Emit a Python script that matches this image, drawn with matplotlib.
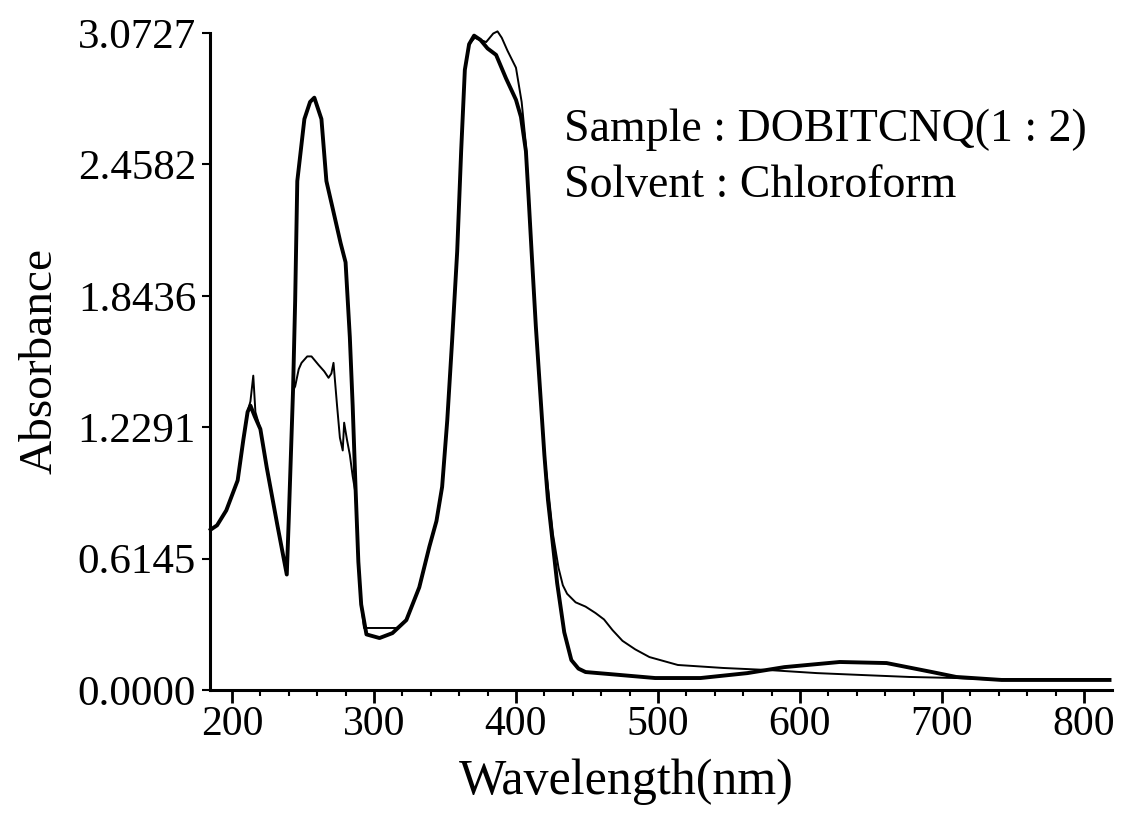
import numpy as np
import matplotlib
matplotlib.use('Agg')
import matplotlib.pyplot as plt
from matplotlib.ticker import FixedLocator, MultipleLocator

wl_thick = [185, 189.5, 196, 204, 208, 211, 213, 216, 220, 224.5, 232, 238.6,
            240, 243, 244.5, 246, 251, 255, 258, 263, 266.5, 271, 276.5, 280,
            283, 285, 287, 289, 291, 294.7, 303.9, 313, 322.8, 331.9, 339, 344,
            348, 351.6, 355, 358.6, 361.4, 364, 367, 370.5, 375, 380, 386, 393,
            400, 403.5, 407, 409, 411, 414, 417, 420, 422.5, 426, 429, 434, 439,
            444, 449, 465, 498, 530, 563, 589, 628, 661, 693, 710, 742, 818]
abs_thick = [0.75, 0.77, 0.84, 0.98, 1.17, 1.30, 1.33, 1.28, 1.22, 1.04, 0.77, 0.54,
             0.80, 1.40, 1.82, 2.38, 2.67, 2.75, 2.77, 2.67, 2.38, 2.25, 2.09, 2.00,
             1.65, 1.33, 0.95, 0.60, 0.40, 0.26, 0.243, 0.266, 0.327, 0.48, 0.67, 0.79,
             0.95, 1.26, 1.63, 2.05, 2.52, 2.90, 3.02, 3.06, 3.04, 3.00, 2.97, 2.86,
             2.76, 2.68, 2.52, 2.29, 2.05, 1.70, 1.40, 1.10, 0.89, 0.68, 0.50, 0.27, 0.14,
             0.10, 0.084, 0.075, 0.056, 0.056, 0.079, 0.107, 0.131, 0.126, 0.084, 0.061, 0.047, 0.047]

wl_thin = [185, 189.5, 196, 204, 208, 211, 213, 215, 216.5, 220, 224.5, 232, 238.6,
           240, 243, 244.5, 247, 249, 253, 256, 261, 265, 268, 270, 271.5, 274, 276,
           278, 279, 281, 283, 285, 287, 289, 291, 293, 300, 310, 316, 322.8, 331.9,
           339, 344, 348, 351.6, 355, 358.6, 361.4, 364, 367, 371, 375, 379, 384, 387,
           390, 394, 400, 404, 407, 409, 411, 414, 417, 420, 423, 426, 430, 433, 436, 442,
           449, 456, 462, 468, 475, 484, 494, 514, 546, 579, 612, 644, 677, 710, 742, 818]
abs_thin = [0.75, 0.77, 0.84, 0.98, 1.17, 1.30, 1.35, 1.47, 1.30, 1.22, 1.04, 0.77, 0.54,
            0.80, 1.40, 1.42, 1.50, 1.53, 1.56, 1.56, 1.52, 1.49, 1.46, 1.48, 1.53, 1.33, 1.18,
            1.12, 1.25, 1.17, 1.10, 1.00, 0.92, 0.60, 0.40, 0.29, 0.29, 0.29, 0.29, 0.327, 0.48,
            0.67, 0.79, 0.95, 1.26, 1.63, 2.05, 2.52, 2.90, 3.02, 3.05, 3.04, 3.03, 3.07, 3.08,
            3.05, 2.99, 2.91, 2.75, 2.55, 2.29, 2.05, 1.70, 1.40, 1.10, 0.92, 0.73, 0.57, 0.49, 0.45, 0.41,
            0.39, 0.36, 0.33, 0.28, 0.23, 0.19, 0.154, 0.117, 0.103, 0.093, 0.079, 0.07, 0.061, 0.056, 0.047, 0.047]

y_ticks = [0.0, 0.6145, 1.2291, 1.8436, 2.4582, 3.0727]
x_ticks = [200, 300, 400, 500, 600, 700, 800]

plt.rcParams['font.family'] = ['Liberation Serif', 'DejaVu Serif']

fig = plt.figure(figsize=(11.38, 8.23), dpi=100)
ax = fig.add_axes([0.1845, 0.1616, 0.7926, 0.7984])

ax.plot(wl_thick, abs_thick, color='black', lw=2.8, clip_on=False, solid_joinstyle='round')
ax.plot(wl_thin, abs_thin, color='black', lw=1.4, clip_on=False)

ax.set_xlim(184.5, 819.7)
ax.set_ylim(0, 3.0727)

ax.spines['top'].set_visible(False)
ax.spines['right'].set_visible(False)
ax.spines['left'].set_linewidth(2.2)
ax.spines['bottom'].set_linewidth(2.2)

ax.xaxis.set_major_locator(FixedLocator(x_ticks))
ax.xaxis.set_minor_locator(MultipleLocator(20))
ax.yaxis.set_major_locator(FixedLocator(y_ticks))
ax.set_yticklabels(['%.4f' % v for v in y_ticks])
ax.tick_params(axis='x', which='major', length=9, width=2, labelsize=30, pad=2)
ax.tick_params(axis='x', which='minor', length=4, width=1.5)
ax.tick_params(axis='y', which='major', length=6, width=1.5, labelsize=31, pad=4)

ax.set_xlabel('Wavelength(nm)', fontsize=36)
ax.xaxis.set_label_coords(0.462, -0.105)
ax.set_ylabel('Absorbance', fontsize=34, labelpad=12)

ax.text(0.393, 0.835, 'Sample : DOBITCNQ(1 : 2)', transform=ax.transAxes, fontsize=33)
ax.text(0.393, 0.75, 'Solvent : Chloroform', transform=ax.transAxes, fontsize=33)

plt.savefig('out.png', dpi=100)
